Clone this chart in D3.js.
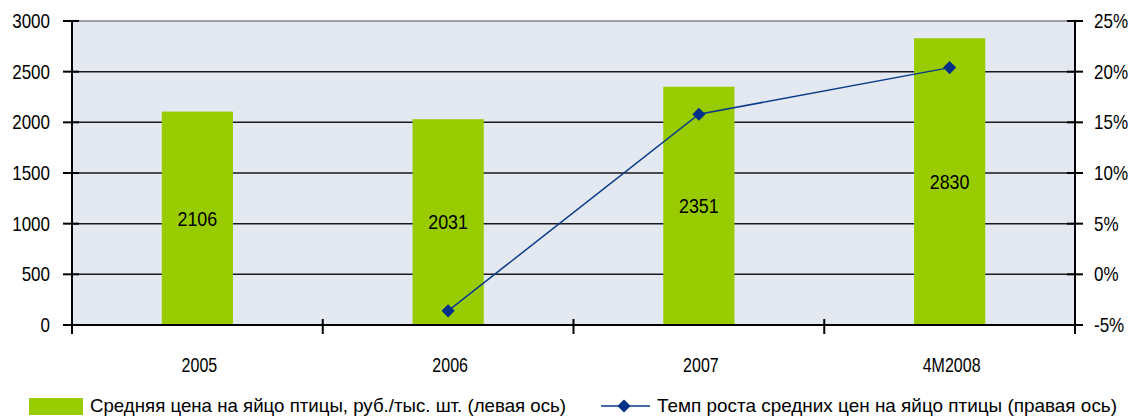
<!DOCTYPE html>
<html>
<head>
<meta charset="utf-8">
<script src="https://cdn.jsdelivr.net/npm/d3@7"></script>
<style>
  body { margin: 0; background: #fff; }
  text { font-family: "Liberation Sans", Arial, sans-serif; fill: #000; }
</style>
</head>
<body>
<div id="chart"></div>
<script>
// data
const categories = ["2005", "2006", "2007", "4M2008"];
const prices = [2106, 2031, 2351, 2830];
const growth = [null, -3.6, 15.8, 20.4];
const leftTicks = [0, 500, 1000, 1500, 2000, 2500, 3000];
const rightTicks = [-5, 0, 5, 10, 15, 20, 25];
const barLabel = "Средняя цена на яйцо птицы, руб./тыс. шт. (левая ось)";
const lineLabel = "Темп роста средних  цен на яйцо птицы (правая ось)";

const W = 1134, H = 419;
const margin = { top: 21, right: 59, bottom: 94, left: 72 };
const width = W - margin.left - margin.right;
const height = H - margin.top - margin.bottom;

const svg = d3.select("#chart").append("svg")
  .attr("width", W).attr("height", H);
const g = svg.append("g")
  .attr("transform", `translate(${margin.left},${margin.top})`);

const x = d3.scaleBand().domain(categories).range([0, width]).paddingInner(0.716).paddingOuter(0.358);
const y = d3.scaleLinear().domain([0, 3000]).range([height, 0]);
const y2 = d3.scaleLinear().domain([-5, 25]).range([height, 0]);

// condensed text helper
function label(sel, px, py, txt, size, sx, anchor) {
  return sel.append("text")
    .attr("transform", `translate(${px},${py}) scale(${sx},1)`)
    .attr("text-anchor", anchor)
    .attr("dy", "0.35em")
    .style("font-size", size + "px")
    .text(txt);
}

// plot background
g.append("rect").attr("width", width).attr("height", height).attr("fill", "#e4e8f1");

// gridlines
g.selectAll(".grid").data(leftTicks.filter(d => d > 0)).enter()
  .append("line")
  .attr("x1", 0).attr("x2", width)
  .attr("y1", d => y(d)).attr("y2", d => y(d))
  .attr("stroke", d => d === 3000 ? "#808080" : "#1a1a1a")
  .attr("stroke-width", 1.5);

// bars
g.selectAll(".bar").data(prices).enter()
  .append("rect")
  .attr("x", (d, i) => x(categories[i]))
  .attr("y", d => y(d))
  .attr("width", x.bandwidth())
  .attr("height", d => height - y(d))
  .attr("fill", "#99cc00");

prices.forEach((d, i) => {
  label(g, x(categories[i]) + x.bandwidth() / 2, (y(d) + height) / 2, d, 21, 0.85, "middle");
});

// line
const cx = (i) => x(categories[i]) + x.bandwidth() / 2;
const pts = growth.map((v, i) => ({ v, i })).filter(d => d.v !== null);
g.append("path")
  .datum(pts)
  .attr("fill", "none")
  .attr("stroke", "#0a3a8a")
  .attr("stroke-width", 1.5)
  .attr("d", d3.line().x(d => cx(d.i)).y(d => y2(d.v)));
g.selectAll(".mk").data(pts).enter()
  .append("path")
  .attr("d", d3.symbol().type(d3.symbolDiamond2).size(110))
  .attr("transform", d => `translate(${cx(d.i)},${y2(d.v)})`)
  .attr("fill", "#003087");

// left axis
g.append("line").attr("x1", 0).attr("x2", 0).attr("y1", 0).attr("y2", height + 9)
  .attr("stroke", "#000").attr("stroke-width", 2);
leftTicks.forEach(t => {
  g.append("line").attr("x1", -9).attr("x2", 7).attr("y1", y(t)).attr("y2", y(t))
    .attr("stroke", "#000").attr("stroke-width", 2);
  label(g, -22, y(t), d3.format("d")(t), 20, 0.85, "end");
});

// right axis
g.append("line").attr("x1", width).attr("x2", width).attr("y1", 0).attr("y2", height + 9)
  .attr("stroke", "#000").attr("stroke-width", 2);
rightTicks.forEach(t => {
  g.append("line").attr("x1", width - 8).attr("x2", width + 8).attr("y1", y2(t)).attr("y2", y2(t))
    .attr("stroke", "#000").attr("stroke-width", 2);
  label(g, width + 19, y2(t), t + "%", 20, 0.85, "start");
});

// x axis
g.append("line").attr("x1", -9).attr("x2", width + 8).attr("y1", height).attr("y2", height)
  .attr("stroke", "#000").attr("stroke-width", 2);
const step = x.step();
g.selectAll(".xt").data(d3.range(1, categories.length)).enter()
  .append("line")
  .attr("x1", i => i * step).attr("x2", i => i * step)
  .attr("y1", height - 6).attr("y2", height + 9)
  .attr("stroke", "#000").attr("stroke-width", 2);
categories.forEach(c => {
  label(g, x(c) + x.bandwidth() / 2 + 2, height + 40, c, 20, 0.8, "middle");
});

// legend
const leg = svg.append("g").attr("transform", `translate(0,${H - 13})`);
leg.append("rect").attr("x", 29).attr("y", -8).attr("width", 54).attr("height", 17).attr("fill", "#99cc00");
leg.append("text").attr("x", 90).attr("y", 6).style("font-size", "19px")
  .attr("textLength", 476).attr("lengthAdjust", "spacingAndGlyphs").text(barLabel);
leg.append("line").attr("x1", 601).attr("x2", 650).attr("y1", 0).attr("y2", 0)
  .attr("stroke", "#0a3a8a").attr("stroke-width", 1.5);
leg.append("path").attr("d", d3.symbol().type(d3.symbolDiamond2).size(110))
  .attr("transform", "translate(624,0)").attr("fill", "#003087");
leg.append("text").attr("x", 657).attr("y", 6).style("font-size", "19px")
  .attr("textLength", 460).attr("lengthAdjust", "spacingAndGlyphs").text(lineLabel);
</script>
</body>
</html>
